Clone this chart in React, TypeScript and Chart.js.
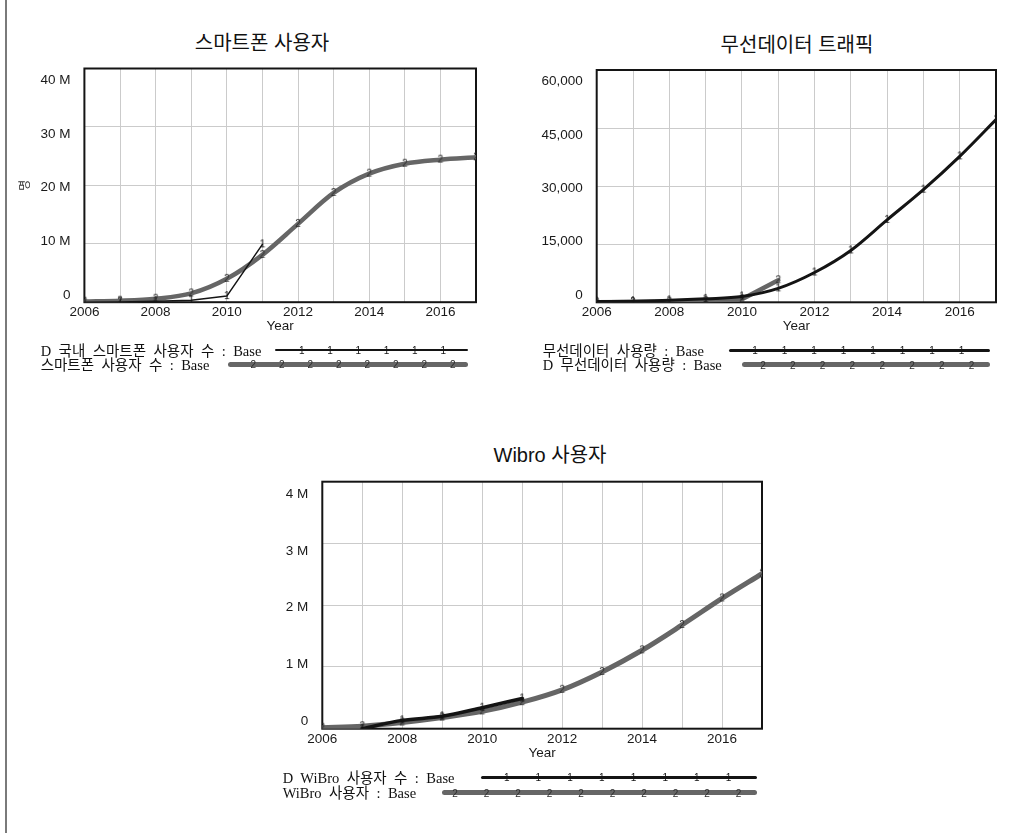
import React, { useEffect, useRef } from 'react';
import { Chart, registerables } from 'chart.js';

Chart.register(...registerables);

// ---------- DATA ----------
const years = [2006, 2007, 2008, 2009, 2010, 2011, 2012, 2013, 2014, 2015, 2016, 2017];
const yearTickLabels = ['2006', '2008', '2010', '2012', '2014', '2016'];

// 스마트폰 사용자
const smartphoneDomestic = [0, 50000, 150000, 350000, 1050000, 9900000];
const smartphoneUsers = [100000, 250000, 600000, 1500000, 4000000, 8100000, 13400000, 18700000, 22000000, 23700000, 24400000, 24800000];
const smartphoneTickValues = [0, 10000000, 20000000, 30000000, 40000000];
const smartphoneTickLabels = ['0', '10 M', '20 M', '30 M', '40 M'];
const smartphoneLabels = ['D 국내 스마트폰 사용자 수 : Base', '스마트폰 사용자 수 : Base'];

// 무선데이터 트래픽
const wirelessUsage = [200, 300, 500, 900, 1500, 3600, 7700, 13400, 21300, 29100, 37700, 47200];
const wirelessDomestic = [0, 50, 150, 400, 800, 5700];
const wirelessTickValues = [0, 15000, 30000, 45000, 60000];
const wirelessTickLabels = ['0', '15,000', '30,000', '45,000', '60,000'];
const wirelessLabels = ['무선데이터 사용량 : Base', 'D 무선데이터 사용량 : Base'];

// Wibro 사용자
const wibroDomestic = [null, 0, 135000, 200000, 340000, 490000];
const wibroUsers = [16000, 40000, 100000, 180000, 280000, 430000, 630000, 920000, 1270000, 1680000, 2110000, 2510000];
const wibroTickValues = [0, 1000000, 2000000, 3000000, 4000000];
const wibroTickLabels = ['0', '1 M', '2 M', '3 M', '4 M'];
const wibroLabels = ['D WiBro 사용자 수 : Base', 'WiBro 사용자 : Base'];

// ---------- STYLE ----------
const BLACK = '#141414';
const GRAY = '#666666';
const MARK2 = '#2e2e2e';
const GRID = '#cbcbcb';
const TICK_FONT = 'Liberation Sans';
const TITLE_FONT = '"Liberation Sans", "Noto Sans CJK KR", sans-serif';
const LEGEND_FONT = '"Liberation Serif", "Noto Sans CJK KR", serif';

type Series = { values: (number | null)[]; color: string; width: number; marker: string; smooth: boolean };
type Box = { x: number; y: number; w: number; h: number };
type Plot = { l: number; r: number; t: number; b: number };

const markerCache: Record<string, HTMLCanvasElement> = {};
function makeMarker(text: string, color: string): HTMLCanvasElement {
  const key = text + color;
  if (markerCache[key]) return markerCache[key];
  const c = document.createElement('canvas');
  c.width = 10;
  c.height = 12;
  const ctx = c.getContext('2d')!;
  ctx.font = '10px "Liberation Sans"';
  ctx.fillStyle = color;
  ctx.textAlign = 'center';
  ctx.textBaseline = 'middle';
  ctx.fillText(text, 5, 6.5);
  markerCache[key] = c;
  return c;
}

const framePlugin = {
  id: 'frame',
  beforeDatasetsDraw(chart: any) {
    const { ctx, chartArea: a } = chart;
    ctx.save();
    ctx.strokeStyle = BLACK;
    ctx.lineWidth = 2;
    ctx.strokeRect(a.left, a.top, a.right - a.left, a.bottom - a.top);
    ctx.restore();
  },
};

function Panel(props: {
  box: Box;
  plot: Plot;
  series: Series[];
  tickValues: number[];
  tickLabels: string[];
  yTitle?: string;
}) {
  const ref = useRef<HTMLCanvasElement>(null);
  useEffect(() => {
    const { box, plot, series, tickValues, tickLabels, yTitle } = props;
    const xH = 40;
    const padR = box.w - (plot.r - box.x);
    const padT = plot.t - box.y;
    const padB = box.h - (plot.b - box.y) - xH;
    const yW = plot.l - box.x;
    const yMax = tickValues[tickValues.length - 1];
    const font = { family: TICK_FONT, size: 13.5 };

    const datasets = series.map((s) => ({
      data: s.values.map((v, i) => ({ x: years[i], y: v })),
      borderColor: s.color,
      backgroundColor: s.color,
      borderWidth: s.width,
      tension: 0,
      cubicInterpolationMode: s.smooth ? 'monotone' : 'default',
      pointStyle: makeMarker(s.marker, s.marker === '1' ? BLACK : MARK2),
      pointRadius: 3,
      pointHoverRadius: 3,
      borderCapStyle: 'round',
      borderJoinStyle: 'round',
      spanGaps: false,
      xAxisID: 'x',
      yAxisID: 'y',
    }));

    const chart = new Chart(ref.current!, {
      type: 'line',
      data: { datasets } as any,
      plugins: [framePlugin],
      options: {
        animation: false,
        responsive: false,
        devicePixelRatio: 1,
        events: [],
        layout: { autoPadding: false, padding: { left: 0, right: padR, top: padT, bottom: padB } },
        plugins: { legend: { display: false }, tooltip: { enabled: false }, title: { display: false } },
        scales: {
          x: {
            type: 'linear',
            min: years[0],
            max: years[years.length - 1],
            afterBuildTicks: (s: any) => {
              s.ticks = years.map((v) => ({ value: v }));
            },
            afterFit: (s: any) => {
              s.height = xH;
            },
            ticks: {
              autoSkip: false,
              maxRotation: 0,
              padding: 2,
              color: '#1a1a1a',
              font,
              callback: (v: any) => (yearTickLabels.includes(String(v)) ? String(v) : ''),
            },
            grid: { color: GRID, lineWidth: 1, drawTicks: false },
            border: { display: false },
            title: {
              display: true,
              text: 'Year',
              color: '#1a1a1a',
              font,
              padding: { top: 0, bottom: 7.5 },
            },
          },
          y: {
            type: 'linear',
            position: 'left',
            min: 0,
            max: yMax,
            afterBuildTicks: (s: any) => {
              s.ticks = tickValues.map((v) => ({ value: v }));
            },
            afterFit: (s: any) => {
              s.width = 0;
            },
            ticks: { display: false },
            grid: { color: GRID, lineWidth: 1, drawTicks: false },
            border: { display: false },
          },
          yl: {
            type: 'linear',
            position: 'left',
            min: -0.034 * yMax,
            max: 1.055 * yMax,
            afterBuildTicks: (s: any) => {
              s.ticks = tickValues.map((v) => ({ value: v }));
            },
            afterFit: (s: any) => {
              s.width = yW;
            },
            ticks: {
              padding: 14,
              color: '#1a1a1a',
              font,
              callback: (_v: any, i: number) => tickLabels[i],
            },
            grid: { display: false, drawTicks: false },
            border: { display: false },
            title: {
              display: !!yTitle,
              text: yTitle || '',
              color: '#333',
              font: { family: 'Noto Sans CJK KR', size: 12 },
              padding: { top: 16.8, bottom: 0 },
            },
          },
        },
      } as any,
    });
    return () => chart.destroy();
  }, []);
  const { box } = props;
  return (
    <canvas
      ref={ref}
      width={box.w}
      height={box.h}
      style={{ position: 'absolute', left: box.x, top: box.y, width: box.w, height: box.h }}
    />
  );
}

type LegendItem = {
  label: string;
  color: string;
  width: number;
  marker: string;
  textX: number;
  y: number;
  x1: number;
  x2: number;
  mStart: number;
  mStep: number;
  mCount: number;
};

function Legend({ items }: { items: LegendItem[] }) {
  return (
    <>
      {items.map((it, k) => (
        <React.Fragment key={k}>
          <div
            style={{
              position: 'absolute',
              left: it.textX,
              top: it.y - 11.5,
              height: 18,
              lineHeight: '18px',
              font: `14.5px ${LEGEND_FONT}`,
              wordSpacing: '3.8px',
              color: '#111',
              whiteSpace: 'nowrap',
            }}
          >
            {it.label}
          </div>
          <div
            style={{
              position: 'absolute',
              left: it.x1,
              top: it.y - it.width / 2,
              width: it.x2 - it.x1,
              height: it.width,
              background: it.color,
              borderRadius: it.width / 2,
            }}
          />
          {Array.from({ length: it.mCount }).map((_, j) => (
            <span
              key={j}
              style={{
                position: 'absolute',
                left: it.mStart + j * it.mStep - 5,
                top: it.y - 5,
                width: 10,
                height: 12,
                lineHeight: '12px',
                textAlign: 'center',
                font: `10px ${TICK_FONT}`,
                color: it.marker === '1' ? BLACK : MARK2,
              }}
            >
              {it.marker}
            </span>
          ))}
        </React.Fragment>
      ))}
    </>
  );
}

function Title({ text, cx, cy }: { text: string; cx: number; cy: number }) {
  return (
    <div
      style={{
        position: 'absolute',
        left: cx,
        top: cy,
        transform: 'translate(-50%, -50%)',
        font: `20px ${TITLE_FONT}`,
        lineHeight: 1,
        color: '#111',
        whiteSpace: 'nowrap',
      }}
    >
      {text}
    </div>
  );
}

export default function App() {
  return (
    <div
      style={{
        position: 'absolute',
        left: 0,
        top: 0,
        width: 1015,
        height: 833,
        background: '#fff',
        overflow: 'hidden',
      }}
    >
      <div style={{ position: 'absolute', left: 5, top: 0, width: 2, height: 833, background: '#7a7a7a' }} />

      <Title text="스마트폰 사용자" cx={262} cy={43} />
      <Panel
        box={{ x: 0, y: 0, w: 500, h: 345 }}
        plot={{ l: 84.4, r: 476, t: 68.5, b: 302.2 }}
        tickValues={smartphoneTickValues}
        tickLabels={smartphoneTickLabels}
        yTitle="명"
        series={[
          { values: smartphoneDomestic, color: BLACK, width: 1.5, marker: '1', smooth: false },
          { values: smartphoneUsers, color: GRAY, width: 4.5, marker: '2', smooth: true },
        ]}
      />
      <Legend
        items={[
          { label: smartphoneLabels[0], color: BLACK, width: 2.5, marker: '1', textX: 40.7, y: 350, x1: 275, x2: 468, mStart: 301.7, mStep: 28.3, mCount: 6 },
          { label: smartphoneLabels[1], color: GRAY, width: 5, marker: '2', textX: 40.7, y: 364.3, x1: 228, x2: 468, mStart: 253.3, mStep: 28.5, mCount: 8 },
        ]}
      />

      <Title text="무선데이터 트래픽" cx={797} cy={45} />
      <Panel
        box={{ x: 505, y: 0, w: 510, h: 345 }}
        plot={{ l: 596.7, r: 996, t: 70, b: 302.3 }}
        tickValues={wirelessTickValues}
        tickLabels={wirelessTickLabels}
        series={[
          { values: wirelessUsage, color: BLACK, width: 3, marker: '1', smooth: true },
          { values: wirelessDomestic, color: GRAY, width: 4.5, marker: '2', smooth: false },
        ]}
      />
      <Legend
        items={[
          { label: wirelessLabels[0], color: BLACK, width: 3, marker: '1', textX: 542.7, y: 350.3, x1: 729.3, x2: 990, mStart: 755, mStep: 29.5, mCount: 8 },
          { label: wirelessLabels[1], color: GRAY, width: 5, marker: '2', textX: 542.7, y: 364.5, x1: 741.7, x2: 990, mStart: 763, mStep: 29.8, mCount: 8 },
        ]}
      />

      <Title text="Wibro 사용자" cx={550} cy={455} />
      <Panel
        box={{ x: 230, y: 420, w: 560, h: 360 }}
        plot={{ l: 322.3, r: 762, t: 481.7, b: 728.7 }}
        tickValues={wibroTickValues}
        tickLabels={wibroTickLabels}
        series={[
          { values: wibroDomestic, color: BLACK, width: 3.5, marker: '1', smooth: true },
          { values: wibroUsers, color: GRAY, width: 5, marker: '2', smooth: true },
        ]}
      />
      <Legend
        items={[
          { label: wibroLabels[0], color: BLACK, width: 3, marker: '1', textX: 282.7, y: 777, x1: 480.7, x2: 756.7, mStart: 506.7, mStep: 31.7, mCount: 8 },
          { label: wibroLabels[1], color: GRAY, width: 5.5, marker: '2', textX: 282.7, y: 792.7, x1: 441.7, x2: 756.7, mStart: 455, mStep: 31.5, mCount: 10 },
        ]}
      />
    </div>
  );
}
